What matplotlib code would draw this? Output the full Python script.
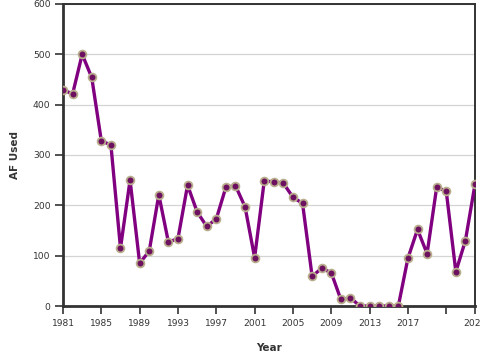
import numpy as np
import matplotlib
matplotlib.use("Agg")
import matplotlib.pyplot as plt

# values
years = list(range(1981, 2025))
af_used = [430, 421, 500, 454, 328, 320, 115, 250, 85, 109,
           221, 127, 134, 240, 187, 158, 173, 236, 239, 197,
           96, 248, 247, 244, 216, 204, 59, 75, 66, 13,
           16, 0, 0, 0, 0, 0, 95, 152, 104, 236,
           228, 68, 130, 242]

x_ticks = list(range(1981, 2022, 4)) + [2024]
x_labels = [str(y) if y != 2021 else "" for y in x_ticks]
y_ticks = [0, 100, 200, 300, 400, 500, 600]

fig = plt.figure(figsize=(4.8, 3.6), dpi=100)
ax = fig.add_axes([63 / 480, 1 - 306 / 360, 412 / 480, 302 / 360])

ax.plot(years, af_used, color="#800080", lw=2.4, zorder=3,
        marker="o", ms=5.6, mfc="#6e1060", mec="#b8ad8c", mew=1.3)

ax.set_xlim(1981, 2024)
ax.set_ylim(0, 600)
ax.set_xticks(x_ticks)
ax.set_xticklabels(x_labels)
ax.set_yticks(y_ticks)
ax.grid(axis="y", color="#d4d4d4", lw=0.9, zorder=0)
ax.set_axisbelow(True)

for side in ["left", "bottom"]:
    ax.spines[side].set_linewidth(2)
    ax.spines[side].set_color("#333333")
for side in ["top", "right"]:
    ax.spines[side].set_linewidth(1.4)
    ax.spines[side].set_color("#333333")

ax.tick_params(axis="both", direction="out", length=6, width=1.2,
               color="#333333", labelsize=6.6, labelcolor="#333333", pad=3)

ax.set_xlabel("Year", fontsize=7.5, fontweight="bold", color="#333333", labelpad=11)
ax.set_ylabel("AF Used", fontsize=7.5, fontweight="bold", color="#333333", labelpad=9)

fig.savefig("out.png", dpi=100)
